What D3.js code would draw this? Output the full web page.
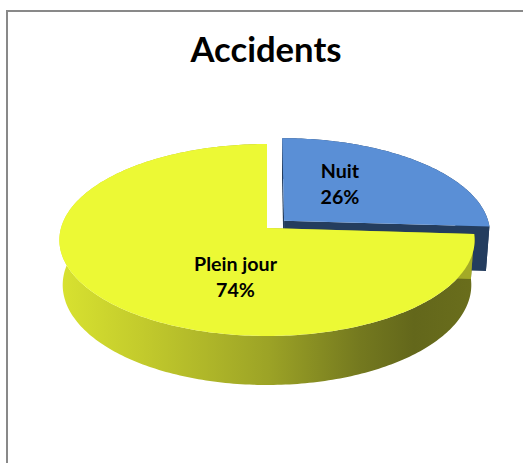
<!DOCTYPE html>
<html><head><meta charset="utf-8">
<script src="https://cdn.jsdelivr.net/npm/d3@7"></script>
<style>html,body{margin:0;padding:0;background:#fff;overflow:hidden;} svg{display:block;}</style>
</head><body>
<script>
// ---- data ----
const title = "Accidents";
const categories = ["Nuit", "Plein jour"];
const values = [26, 74];
const valueLabels = ["26%", "74%"];

// ---- layout / style ----
const W = 523, H = 463;
const topColors = ["#5A8FD6", "#ECF935"];
const sideColors = ["#243D5E", "url(#sideGrad)"];
const explodeFrac = [0.115, 0];
const fontFamily = "Lato, 'Open Sans', sans-serif";

// perspective projection of a unit-radius pie lying on a table
const cx = 267, cy = 228;
const phi = 27.3 * Math.PI / 180, S = Math.sin(phi), C = Math.cos(phi);
const L = 7.107, F = 1464, TH = 0.248;
function proj(u, d, z) {
  const w = L + d * C - z * S;
  const v = d * S + z * C;
  return [cx + F * u / w, cy - F * v / w];
}

const svg = d3.select("body").append("svg").attr("width", W).attr("height", H);

const defs = svg.append("defs");
const grad = defs.append("linearGradient").attr("id", "sideGrad")
  .attr("gradientUnits", "userSpaceOnUse").attr("x1", 61).attr("x2", 476).attr("y1", 0).attr("y2", 0);
[[0, "#D8E230"], [0.2, "#C2CA2C"], [0.5, "#9CA326"], [0.72, "#74791F"], [0.85, "#63671B"], [1, "#6A6E1C"]]
  .forEach(([o, c]) => grad.append("stop").attr("offset", o).attr("stop-color", c));

// chart frame
svg.append("rect").attr("x", 7).attr("y", 11).attr("width", 600).attr("height", 600)
  .attr("fill", "#fff").attr("stroke", "#898989").attr("stroke-width", 2);

const pie = d3.pie().sort(null).startAngle(0).endAngle(2 * Math.PI);
const arcs = pie(values);
const line = d3.line();

function rimPoints(a0, a1, z, off) {
  const n = Math.max(8, Math.ceil((a1 - a0) / (Math.PI / 180)));
  return d3.range(n + 1).map(i => {
    const a = a0 + (a1 - a0) * i / n;
    return proj(Math.sin(a) + off[0], Math.cos(a) + off[1], z, off);
  });
}

const g = svg.append("g");
// draw far slice (exploded Nuit) first, then the big slice in front
const order = [0, 1];
order.forEach(i => {
  const a = arcs[i];
  const mid = (a.startAngle + a.endAngle) / 2;
  const off = [explodeFrac[i] * Math.sin(mid), explodeFrac[i] * Math.cos(mid)];
  const topRim = rimPoints(a.startAngle, a.endAngle, 0, off);
  const botRim = rimPoints(a.startAngle, a.endAngle, -TH, off);
  const apexT = proj(off[0], off[1], 0);
  const apexB = proj(off[0], off[1], -TH);
  const sg = g.append("g").attr("class", "slice-" + i);
  // outer curved side
  sg.append("path").attr("d", line(topRim.concat(botRim.slice().reverse())) + "Z")
    .attr("fill", sideColors[i]);
  // radial faces
  [[topRim[0], botRim[0]], [topRim[topRim.length - 1], botRim[botRim.length - 1]]].forEach(([t, b]) => {
    sg.append("path").attr("d", line([apexT, t, b, apexB]) + "Z")
      .attr("fill", i === 0 ? sideColors[i] : "#A3AA27");
  });
  // top face
  sg.append("path").attr("d", line([apexT].concat(topRim)) + "Z")
    .attr("fill", topColors[i]);
});

// fit text to width
function fitText(sel, target) {
  sel.attr("font-size", 100);
  const w = sel.node().getComputedTextLength();
  sel.attr("font-size", 100 * target / w);
}

const t = svg.append("text").attr("x", 266).attr("y", 62).attr("text-anchor", "middle")
  .attr("font-family", fontFamily).attr("font-weight", "bold").attr("fill", "#000").text(title);
fitText(t, 151);

const labelPos = [[340, 178, 204], [235.5, 271, 297]];
const tmp = svg.append("text").attr("font-family", fontFamily).attr("font-weight", "bold").text(categories[1]);
fitText(tmp, 83);
const labelSize = +tmp.attr("font-size");
tmp.remove();

categories.forEach((c, i) => {
  const [x, y1, y2] = labelPos[i];
  const lt = svg.append("text").attr("text-anchor", "middle")
    .attr("font-family", fontFamily).attr("font-weight", "bold").attr("font-size", labelSize).attr("fill", "#000");
  lt.append("tspan").attr("x", x).attr("y", y1).text(c);
  lt.append("tspan").attr("x", x).attr("y", y2).text(valueLabels[i]);
});
</script>
</body></html>
